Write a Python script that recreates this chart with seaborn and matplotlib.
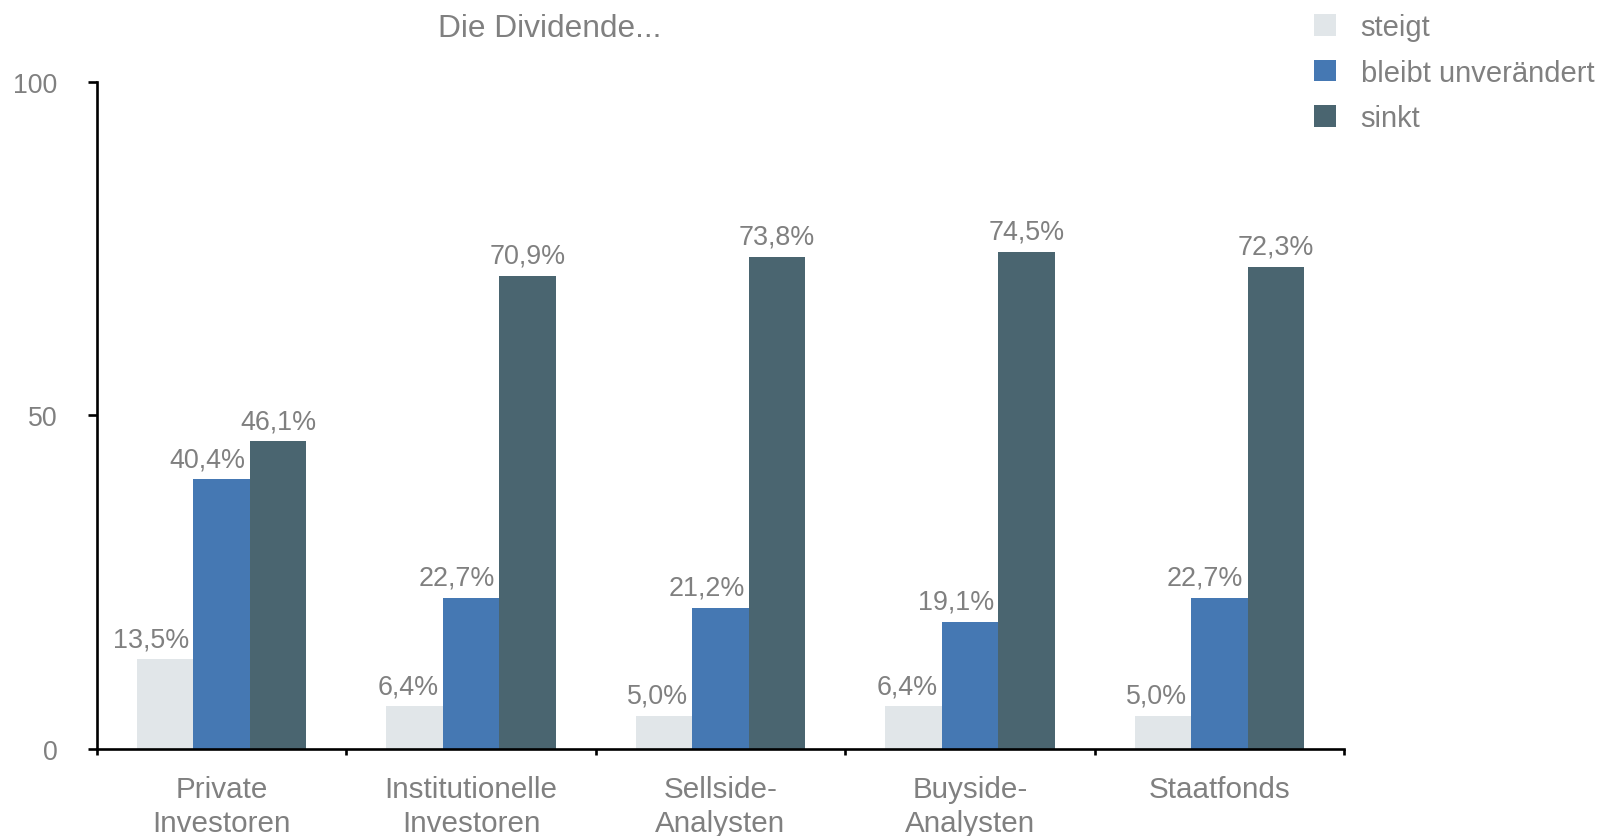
import matplotlib
matplotlib.use("Agg")
import matplotlib.pyplot as plt
from matplotlib.patches import Patch
from matplotlib.ticker import FixedLocator
import seaborn as sns
import pandas as pd

# Survey answers per investor group (percent)
groups = ["Private\nInvestoren", "Institutionelle\nInvestoren", "Sellside-\nAnalysten",
          "Buyside-\nAnalysten", "Staatfonds"]
answers = ["steigt", "bleibt unverändert", "sinkt"]
steigt = [13.5, 6.4, 5.0, 6.4, 5.0]
bleibt = [40.4, 22.7, 21.2, 19.1, 22.7]
sinkt = [46.1, 70.9, 73.8, 74.5, 72.3]
colors = ["#E1E6E9", "#4578B3", "#4A6570"]
title = "Die Dividende..."
y_ticks = [0, 50, 100]

text_grey = "#808080"

sns.set_theme(style="white")
plt.rcParams["font.family"] = ["Liberation Sans", "DejaVu Sans"]

df = pd.DataFrame({
    "Gruppe": groups * 3,
    "Antwort": [a for a in answers for _ in groups],
    "Anteil": steigt + bleibt + sinkt,
})

fig = plt.figure(figsize=(16.05, 8.37), dpi=100)
ax = fig.add_axes([0.0604, 0.1039, 0.7770, 0.7973])

sns.barplot(data=df, x="Gruppe", y="Anteil", hue="Antwort", hue_order=answers,
            order=groups, palette=colors, width=0.68, saturation=1,
            errorbar=None, legend=False, ax=ax, linewidth=0)

ax.set_xlim(-0.5, len(groups) - 0.5)
ax.set_ylim(0, 100)
ax.set_xlabel("")
ax.set_ylabel("")

for s in ["top", "right"]:
    ax.spines[s].set_visible(False)
for s in ["left", "bottom"]:
    ax.spines[s].set_color("black")
    ax.spines[s].set_linewidth(1.9)

ax.set_yticks(y_ticks)
ax.set_yticklabels([str(t) for t in y_ticks])
ax.tick_params(axis="y", direction="out", length=6.5, width=1.9, color="black",
               labelsize=19.2, labelcolor=text_grey, pad=22, left=True)

# category labels centered, tick marks on the group boundaries
ax.set_xticks(range(len(groups)))
ax.set_xticklabels(groups, linespacing=1.26)
ax.xaxis.set_minor_locator(FixedLocator([i - 0.5 for i in range(len(groups) + 1)]))
ax.tick_params(axis="x", which="major", length=0, labelsize=21.3, labelcolor=text_grey, pad=19)
ax.tick_params(axis="x", which="minor", direction="out", length=4.5, width=1.9,
               color="black", bottom=True)
ax.grid(False)

# value labels
for ci, cont in enumerate(ax.containers):
    for bar, val in zip(cont, [steigt, bleibt, sinkt][ci]):
        lbl = f"{val:.1f}%".replace(".", ",")
        top = bar.get_height()
        if ci < 2:
            x = bar.get_x() + bar.get_width()
            ax.annotate(lbl, (x, top), xytext=(-3, 5), textcoords="offset points",
                        ha="right", va="bottom", fontsize=19.4, color=text_grey)
        else:
            x = bar.get_x() + bar.get_width() / 2
            ax.annotate(lbl, (x, top), xytext=(0, 5), textcoords="offset points",
                        ha="center", va="bottom", fontsize=19.4, color=text_grey)

fig.text(550 / 1605, 1 - 29 / 837, title, ha="center", va="center",
         fontsize=22.8, color=text_grey)

handles = [Patch(facecolor=c, edgecolor="none") for c in colors]
leg = fig.legend(handles, answers, loc="upper left",
                 bbox_to_anchor=(1314 / 1605, 1 - 14 / 837), frameon=False,
                 fontsize=21, handlelength=0.75, handleheight=0.75,
                 handletextpad=0.85, labelspacing=0.6, borderpad=0, borderaxespad=0)
for t in leg.get_texts():
    t.set_color(text_grey)

fig.savefig("out.png", dpi=100)
